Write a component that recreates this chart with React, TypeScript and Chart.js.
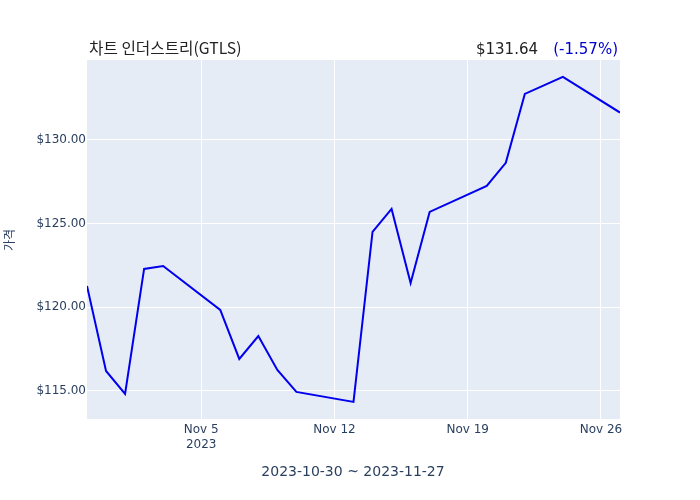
import React, { useEffect, useRef } from "react";
import { Chart, registerables } from "chart.js";

Chart.register(...registerables);

const days: number[] = [0, 1, 2, 3, 4, 7, 8, 9, 10, 11, 14, 15, 16, 17, 18, 21, 22, 23, 25, 28];
const prices: number[] = [121.27, 116.19, 114.82, 122.29, 122.47, 119.84, 116.91, 118.28, 116.25, 114.94, 114.34, 124.5, 125.88, 121.45, 125.7, 127.25, 128.63, 132.75, 133.77, 131.64];
const xTickDays: number[] = [6, 13, 20, 27];
const xTickLabels: (string | string[])[] = [["Nov 5", "2023"], "Nov 12", "Nov 19", "Nov 26"];
const yTicks: number[] = [115, 120, 125, 130];
const titleText = "차트 인더스트리(GTLS)";
const priceText = "$131.64";
const changeText = "(-1.57%)";
const rangeText = "2023-10-30 ~ 2023-11-27";
const yTitle = "가격";

const FONT = "'DejaVu Sans', sans-serif";
const CJK = "'Noto Sans CJK KR', 'DejaVu Sans', sans-serif";

export default function App() {
  const ref = useRef<HTMLCanvasElement>(null);
  useEffect(() => {
    if (!ref.current) return;
    const deco = {
      id: "deco",
      beforeDraw(chart: any) {
        const { ctx, chartArea } = chart;
        ctx.save();
        ctx.fillStyle = "#ffffff";
        ctx.fillRect(0, 0, chart.width, chart.height);
        ctx.fillStyle = "#e5ecf6";
        ctx.fillRect(chartArea.left, chartArea.top, chartArea.right - chartArea.left, chartArea.bottom - chartArea.top);
        ctx.restore();
      },
      afterDraw(chart: any) {
        const { ctx } = chart;
        ctx.save();
        ctx.textBaseline = "alphabetic";
        ctx.fillStyle = "#222222";
        ctx.font = `15.7px ${CJK}`;
        ctx.textAlign = "left";
        ctx.fillText(titleText, 89, 54);
        ctx.font = `15px ${FONT}`;
        ctx.textAlign = "right";
        ctx.fillStyle = "#0000cc";
        ctx.fillText(changeText, 618, 54);
        ctx.fillStyle = "#222222";
        ctx.fillText(priceText, 538, 54);
        ctx.font = `14px ${FONT}`;
        ctx.fillStyle = "#2a3f5f";
        ctx.textAlign = "center";
        ctx.fillText(rangeText, 353, 476);
        ctx.translate(9, 240);
        ctx.rotate(-Math.PI / 2);
        ctx.font = `12px ${CJK}`;
        ctx.textBaseline = "middle";
        ctx.fillText(yTitle, 0, 0);
        ctx.restore();
      },
    };
    const chart = new Chart(ref.current, {
      type: "line",
      data: {
        datasets: [
          {
            data: days.map((d, i) => ({ x: d, y: prices[i] })),
            borderColor: "#0000ee",
            borderWidth: 2,
            pointRadius: 0,
            tension: 0,
            fill: false,
          },
        ],
      },
      options: {
        animation: false,
        responsive: false,
        layout: { padding: { left: 0, right: 80, top: 60, bottom: 0 } },
        plugins: { legend: { display: false }, tooltip: { enabled: false } },
        scales: {
          x: {
            type: "linear",
            min: 0,
            max: 28,
            afterBuildTicks(scale: any) {
              scale.ticks = xTickDays.map((v) => ({ value: v }));
            },
            afterFit(scale: any) {
              scale.height = 81;
            },
            grid: { color: "#ffffff", lineWidth: 1, drawTicks: false },
            border: { display: false },
            ticks: {
              color: "#2a3f5f",
              font: { family: FONT, size: 12 },
              padding: 4,
              maxRotation: 0,
              autoSkip: false,
              callback(value: any) {
                const i = xTickDays.indexOf(Number(value));
                return i >= 0 ? xTickLabels[i] : "";
              },
            },
          },
          y: {
            type: "linear",
            min: 113.32,
            max: 134.78,
            afterBuildTicks(scale: any) {
              scale.ticks = yTicks.map((v) => ({ value: v }));
            },
            afterFit(scale: any) {
              scale.width = 87;
            },
            grid: { color: "#ffffff", lineWidth: 1, drawTicks: false },
            border: { display: false },
            ticks: {
              color: "#2a3f5f",
              font: { family: FONT, size: 12 },
              padding: 1,
              callback(value: any) {
                return "$" + Number(value).toFixed(2);
              },
            },
          },
        },
      } as any,
      plugins: [deco],
    });
    return () => chart.destroy();
  }, []);
  return (
    <div style={{ position: "fixed", left: 0, top: 0, width: 700, height: 500 }}>
      <canvas ref={ref} width={700} height={500} style={{ width: 700, height: 500 }} />
    </div>
  );
}
